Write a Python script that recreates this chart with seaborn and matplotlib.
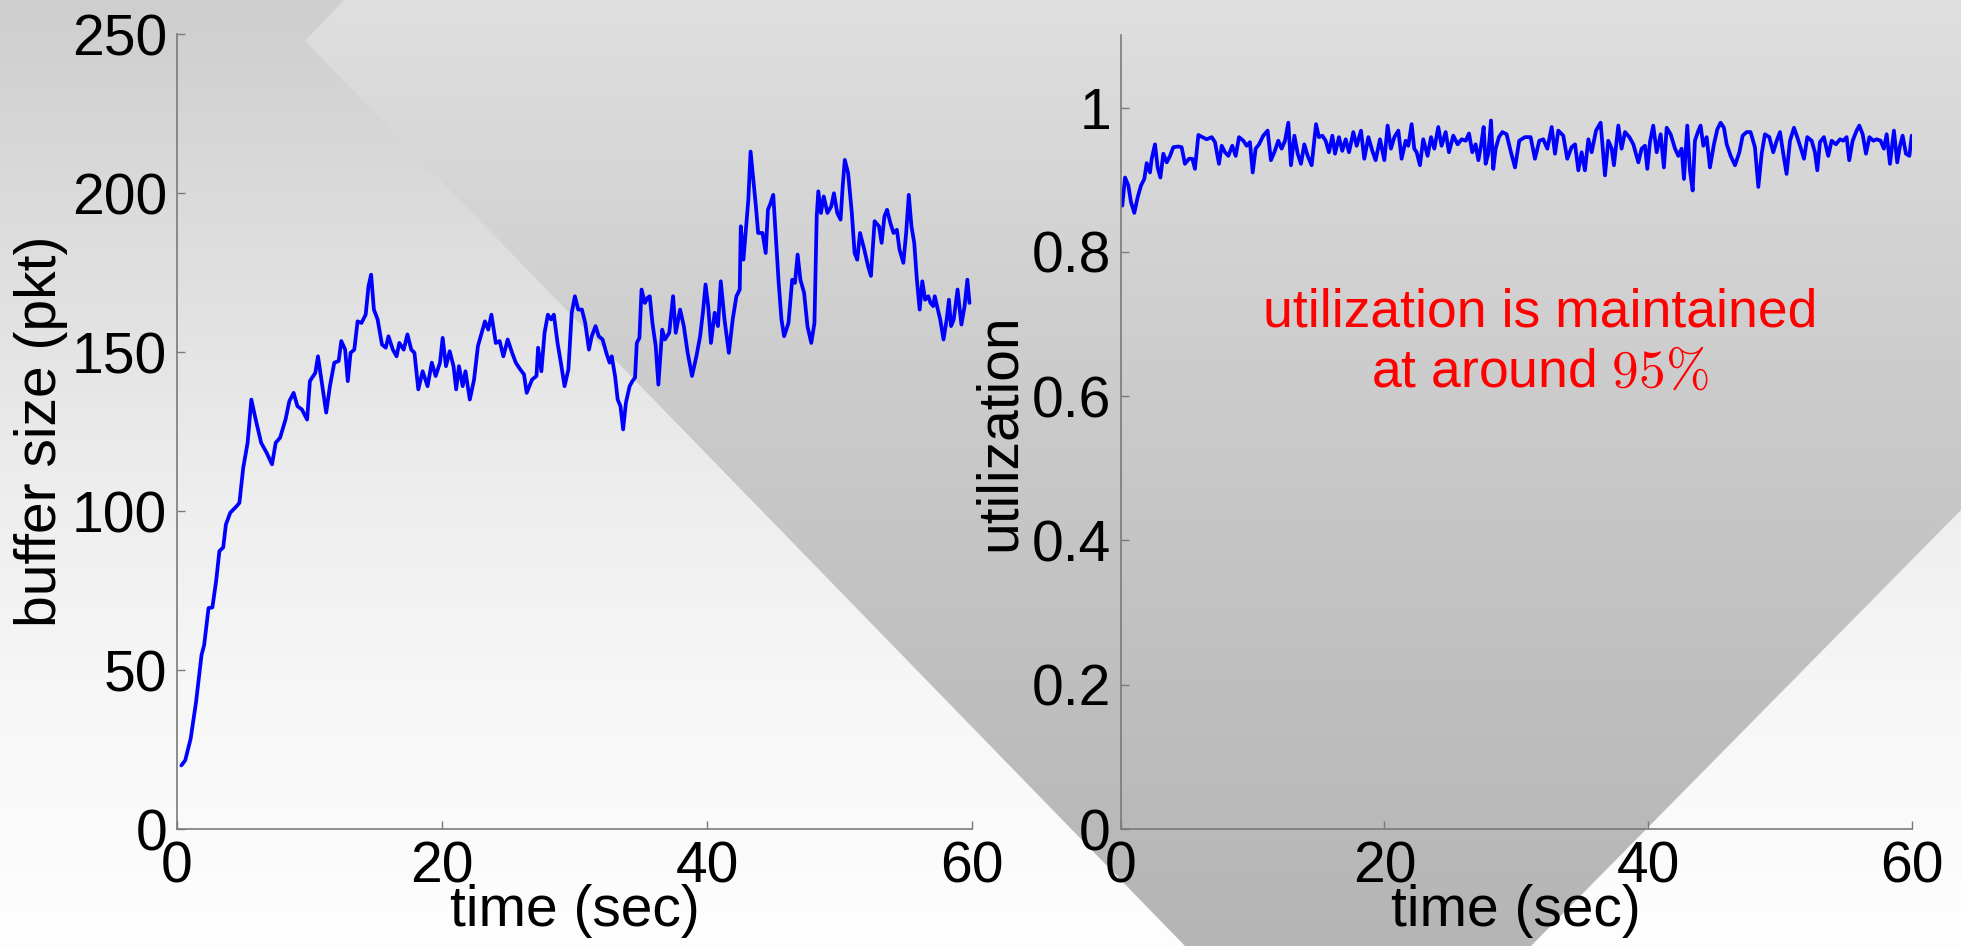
import numpy as np
import matplotlib
matplotlib.use("Agg")
import matplotlib.pyplot as plt
from matplotlib.patches import Polygon
import seaborn as sns

# buffer size (pkt)
buffer_t = [0.33, 0.62, 1.03, 1.44, 1.85, 2.05, 2.38, 2.67, 2.95, 3.20, 3.49, 3.69, 4.02, 4.51, 4.71, 5.00,
            5.33, 5.61, 5.94, 6.35, 6.76, 7.17, 7.45, 7.78, 8.19, 8.48, 8.80, 9.09, 9.42, 9.82, 10.03, 10.44,
            10.64, 10.97, 11.26, 11.54, 11.87, 12.20, 12.40, 12.69, 12.89, 13.10, 13.38, 13.63, 13.92, 14.24,
            14.45, 14.65, 14.86, 15.14, 15.47, 15.76, 15.96, 16.29, 16.57, 16.78, 17.11, 17.39, 17.68, 17.92,
            18.21, 18.54, 18.91, 19.23, 19.52, 19.85, 20.05, 20.30, 20.58, 20.87, 21.07, 21.28, 21.56, 21.77,
            22.10, 22.42, 22.71, 23.00, 23.24, 23.49, 23.73, 24.06, 24.35, 24.63, 24.96, 25.29, 25.57, 25.90,
            26.19, 26.39, 26.80, 27.13, 27.25, 27.50, 27.74, 27.99, 28.23, 28.44, 28.72, 28.97, 29.25, 29.54,
            29.79, 30.03, 30.28, 30.56, 30.81, 31.09, 31.30, 31.59, 31.83, 32.12, 32.40, 32.65, 32.81, 33.06,
            33.26, 33.47, 33.67, 33.88, 34.16, 34.37, 34.57, 34.70, 34.90, 35.06, 35.31, 35.51, 35.68, 35.88,
            36.13, 36.33, 36.62, 36.82, 37.15, 37.44, 37.64, 37.97, 38.25, 38.54, 38.87, 39.20, 39.48, 39.69,
            39.89, 40.09, 40.30, 40.58, 40.83, 41.04, 41.32, 41.65, 41.94, 42.22, 42.47, 42.55, 42.75, 42.96,
            43.12, 43.29, 43.45, 43.69, 43.86, 44.19, 44.43, 44.60, 44.80, 45.00, 45.21, 45.41, 45.62, 45.82,
            46.15, 46.43, 46.64, 46.84, 47.05, 47.33, 47.58, 47.87, 48.11, 48.28, 48.40, 48.60, 48.81, 49.09,
            49.38, 49.58, 49.83, 50.08, 50.24, 50.40, 50.65, 50.93, 51.14, 51.34, 51.55, 51.87, 52.16, 52.37,
            52.65, 52.98, 53.18, 53.39, 53.59, 53.84, 54.08, 54.33, 54.53, 54.82, 55.03, 55.23, 55.43, 55.64,
            55.84, 56.05, 56.25, 56.46, 56.70, 56.87, 57.07, 57.19, 57.36, 57.60, 57.85, 58.09, 58.26, 58.42,
            58.62, 58.91, 59.20, 59.44, 59.65, 59.81]
buffer_pkt = [20.0, 21.6, 28.4, 40.0, 54.7, 57.9, 69.5, 69.7, 77.9, 87.4, 88.6, 95.8, 99.5, 101.6, 102.6, 113.7,
              121.5, 135.1, 128.8, 121.5, 118.4, 114.7, 121.5, 123.1, 128.8, 134.6, 137.2, 133.0, 132.0, 128.8,
              140.9, 143.5, 148.7, 139.3, 131.0, 139.3, 146.7, 147.2, 153.5, 150.8, 140.9, 149.8, 150.8, 159.7,
              159.2, 161.8, 170.7, 174.4, 163.4, 160.3, 152.4, 151.4, 155.0, 150.8, 148.7, 152.9, 150.8, 155.6,
              150.8, 149.8, 138.3, 144.0, 139.3, 146.7, 142.5, 146.7, 154.5, 145.6, 150.3, 145.6, 138.3, 145.6,
              139.3, 144.0, 135.1, 141.4, 151.9, 156.1, 159.7, 157.1, 161.8, 152.9, 153.5, 148.7, 154.0, 149.8,
              146.7, 144.6, 143.0, 137.2, 141.4, 142.5, 151.4, 144.0, 156.1, 161.8, 160.3, 161.8, 152.9, 146.7,
              139.3, 144.6, 162.4, 167.6, 163.4, 163.4, 159.2, 150.8, 155.0, 158.2, 155.0, 154.0, 149.8, 146.7,
              148.7, 142.5, 135.1, 133.0, 125.7, 134.1, 139.3, 140.9, 142.0, 152.9, 154.5, 169.7, 165.5, 167.1,
              167.6, 159.2, 151.9, 139.8, 157.1, 154.0, 156.1, 167.6, 156.1, 163.4, 158.2, 149.8, 142.5, 148.7,
              155.0, 162.4, 171.3, 164.5, 152.9, 162.4, 158.2, 172.3, 160.3, 149.8, 160.3, 167.6, 169.7, 189.6,
              179.1, 189.6, 198.0, 213.1, 206.3, 195.9, 187.5, 187.5, 181.2, 194.8, 196.9, 199.5, 185.4, 171.8,
              160.3, 155.0, 159.2, 172.8, 171.8, 180.7, 172.8, 168.6, 158.2, 152.9, 159.2, 192.7, 200.6, 193.8,
              199.0, 193.8, 195.9, 200.0, 193.8, 191.7, 202.1, 210.5, 206.3, 193.8, 181.2, 179.1, 187.5, 182.3,
              177.0, 174.0, 191.2, 189.6, 184.4, 192.7, 194.8, 190.6, 187.5, 188.5, 182.3, 178.1, 187.5, 199.5,
              189.6, 184.4, 172.8, 163.4, 172.3, 166.5, 167.6, 165.5, 164.5, 167.6, 164.5, 160.3, 154.0, 160.3,
              166.5, 158.2, 160.3, 169.7, 158.7, 164.5, 172.8, 165.5]

# utilization
util_t = [0.12, 0.33, 0.58, 0.78, 1.03, 1.29, 1.54, 1.79, 1.97, 2.22, 2.35, 2.60, 2.80, 3.01, 3.23, 3.49,
          3.74, 3.99, 4.37, 4.62, 4.87, 5.18, 5.43, 5.63, 5.89, 6.19, 6.52, 6.90, 7.15, 7.45, 7.66, 7.91,
          8.16, 8.46, 8.72, 8.97, 9.30, 9.55, 9.80, 10.01, 10.23, 10.49, 10.81, 11.14, 11.39, 11.65, 11.95,
          12.20, 12.46, 12.71, 12.91, 13.17, 13.42, 13.67, 13.92, 14.18, 14.48, 14.81, 15.03, 15.29, 15.54,
          15.79, 16.05, 16.25, 16.55, 16.80, 17.06, 17.31, 17.64, 17.89, 18.22, 18.47, 18.78, 19.08, 19.33,
          19.66, 19.99, 20.24, 20.49, 20.75, 21.05, 21.30, 21.61, 21.81, 22.06, 22.26, 22.44, 22.69, 22.94,
          23.27, 23.53, 23.78, 24.08, 24.33, 24.64, 24.89, 25.22, 25.55, 25.85, 26.16, 26.41, 26.66, 26.91,
          27.12, 27.32, 27.52, 27.67, 27.87, 28.08, 28.25, 28.43, 28.68, 28.94, 29.26, 29.59, 29.90, 30.22,
          30.65, 31.08, 31.41, 31.74, 32.04, 32.35, 32.68, 32.93, 33.18, 33.56, 33.86, 34.19, 34.45, 34.70,
          34.95, 35.20, 35.46, 35.71, 36.04, 36.39, 36.72, 36.97, 37.23, 37.40, 37.73, 37.98, 38.24, 38.57,
          38.87, 39.25, 39.50, 39.75, 39.93, 40.13, 40.38, 40.64, 40.94, 41.19, 41.40, 41.70, 42.03, 42.28,
          42.53, 42.71, 42.96, 43.16, 43.37, 43.54, 43.80, 43.97, 44.18, 44.43, 44.68, 44.98, 45.24, 45.49,
          45.74, 45.95, 46.25, 46.58, 46.91, 47.16, 47.46, 47.76, 48.09, 48.35, 48.60, 48.85, 49.18, 49.48,
          49.74, 49.99, 50.24, 50.49, 50.75, 51.05, 51.30, 51.63, 51.81, 52.06, 52.39, 52.64, 52.82, 53.02,
          53.32, 53.65, 53.91, 54.23, 54.54, 54.79, 55.04, 55.24, 55.50, 55.80, 56.00, 56.26, 56.51, 56.77,
          57.07, 57.32, 57.62, 57.87, 58.08, 58.33, 58.63, 58.88, 59.09, 59.29, 59.54, 59.80, 59.98]
util_val = [0.864, 0.903, 0.892, 0.869, 0.854, 0.876, 0.892, 0.901, 0.923, 0.910, 0.929, 0.949, 0.917, 0.903,
            0.936, 0.924, 0.933, 0.945, 0.946, 0.945, 0.922, 0.929, 0.929, 0.915, 0.962, 0.959, 0.956, 0.959,
            0.952, 0.922, 0.947, 0.938, 0.933, 0.947, 0.933, 0.959, 0.954, 0.947, 0.952, 0.910, 0.943, 0.949,
            0.961, 0.968, 0.927, 0.938, 0.954, 0.943, 0.954, 0.979, 0.920, 0.961, 0.936, 0.922, 0.949, 0.933,
            0.920, 0.977, 0.959, 0.961, 0.954, 0.938, 0.961, 0.936, 0.959, 0.940, 0.956, 0.938, 0.966, 0.947,
            0.968, 0.929, 0.959, 0.940, 0.927, 0.956, 0.927, 0.975, 0.943, 0.959, 0.968, 0.929, 0.954, 0.947,
            0.977, 0.943, 0.938, 0.920, 0.956, 0.933, 0.959, 0.943, 0.973, 0.947, 0.966, 0.938, 0.961, 0.949,
            0.956, 0.954, 0.964, 0.938, 0.949, 0.927, 0.947, 0.973, 0.922, 0.936, 0.982, 0.915, 0.943, 0.959,
            0.966, 0.963, 0.938, 0.917, 0.954, 0.959, 0.959, 0.929, 0.954, 0.956, 0.943, 0.973, 0.936, 0.968,
            0.961, 0.929, 0.945, 0.949, 0.913, 0.938, 0.913, 0.956, 0.938, 0.968, 0.979, 0.906, 0.954, 0.943,
            0.920, 0.975, 0.943, 0.966, 0.959, 0.949, 0.924, 0.943, 0.947, 0.915, 0.952, 0.975, 0.938, 0.963,
            0.917, 0.972, 0.963, 0.943, 0.933, 0.943, 0.901, 0.975, 0.913, 0.885, 0.954, 0.968, 0.975, 0.947,
            0.959, 0.917, 0.949, 0.970, 0.979, 0.972, 0.949, 0.933, 0.920, 0.938, 0.961, 0.966, 0.966, 0.945,
            0.890, 0.936, 0.963, 0.959, 0.938, 0.954, 0.966, 0.936, 0.908, 0.954, 0.972, 0.959, 0.940, 0.929,
            0.959, 0.954, 0.938, 0.913, 0.952, 0.959, 0.933, 0.954, 0.949, 0.956, 0.954, 0.959, 0.927, 0.954,
            0.968, 0.975, 0.963, 0.936, 0.959, 0.954, 0.956, 0.954, 0.943, 0.963, 0.922, 0.968, 0.924, 0.947,
            0.961, 0.936, 0.933, 0.961]

x_ticks = [0, 20, 40, 60]
buffer_ticks = [0, 50, 100, 150, 200, 250]
util_ticks = [0, 0.2, 0.4, 0.6, 0.8, 1]

sns.set_style("ticks")
plt.rcParams['font.family'] = ['Liberation Sans', 'DejaVu Sans']
plt.rcParams['mathtext.fontset'] = 'cm'
plt.rcParams['text.color'] = 'black'
plt.rcParams['axes.labelcolor'] = 'black'

W, H = 1961, 946
fig = plt.figure(figsize=(W / 100, H / 100), dpi=100)

# background: grey gradient plus a darker chevron-shaped band
bg = fig.add_axes([0, 0, 1, 1], zorder=-10)
bg.set_axis_off()
rows = np.arange(H)
base = np.interp(rows, [0, 300, 500, 700, H], [206, 225, 238, 247, 254]) / 255
band = np.interp(rows, [0, 400, 650, H], [223, 203, 192, 181]) / 255
bg.imshow(np.repeat(base[:, None, None], 3, axis=2), extent=[0, W, H, 0], aspect='auto')
im = bg.imshow(np.repeat(band[:, None, None], 3, axis=2), extent=[0, W, H, 0], aspect='auto')
chevron = Polygon([(344, 0), (305, 41), (1185, 946), (1531, 946), (1961, 510), (1961, 0)],
                  closed=True, transform=bg.transData, facecolor='none', edgecolor='none')
bg.add_patch(chevron)
im.set_clip_path(chevron)
bg.set_xlim(0, W)
bg.set_ylim(H, 0)

ax1 = fig.add_axes([177 / W, 1 - 829 / H, 795 / W, 794.7 / H])
ax2 = fig.add_axes([1120.7 / W, 1 - 829 / H, 791.3 / W, 793.6 / H])

sns.lineplot(x=buffer_t, y=buffer_pkt, ax=ax1, color='#0000ff', lw=2.7, estimator=None, sort=False)
sns.lineplot(x=util_t, y=util_val, ax=ax2, color='#0000ff', lw=2.7, estimator=None, sort=False)

ax1.set_xlim(0, 60)
ax1.set_ylim(0, 250)
ax1.set_yticks(buffer_ticks)
ax2.set_xlim(0, 60)
ax2.set_ylim(0, 1.1)
ax2.set_yticks(util_ticks)
ax2.set_yticklabels(['%g' % v for v in util_ticks])

for ax in (ax1, ax2):
    ax.set_facecolor('none')
    ax.set_xticks(x_ticks)
    for s in ('top', 'right'):
        ax.spines[s].set_visible(False)
    for s in ('left', 'bottom'):
        ax.spines[s].set_color('#7a7a7a')
        ax.spines[s].set_linewidth(1.2)
    ax.tick_params(direction='in', length=6, width=1, color='#7a7a7a',
                   labelsize=41, labelcolor='black')
    ax.tick_params(axis='y', pad=7)
    ax.tick_params(axis='x', pad=8)
    ax.set_xlabel('time (sec)', fontsize=41, color='black')
    ax.xaxis.set_label_coords(0.5, -0.069)

ax1.set_ylabel('buffer size (pkt)', fontsize=41, va='center', color='black')
ax1.yaxis.set_label_coords(-0.171, 0.5)
ax2.set_ylabel('utilization', fontsize=41, va='center', color='black')
ax2.yaxis.set_label_coords(-0.1525, 0.5)

ax2.text(31.8, 0.697, 'utilization is maintained', color='#ff0000', fontsize=38.5,
         ha='center', va='baseline')
ax2.text(31.8, 0.613, r'at around $95\%$', color='#ff0000', fontsize=38.5,
         ha='center', va='baseline')

fig.savefig('out.png', dpi=100)
